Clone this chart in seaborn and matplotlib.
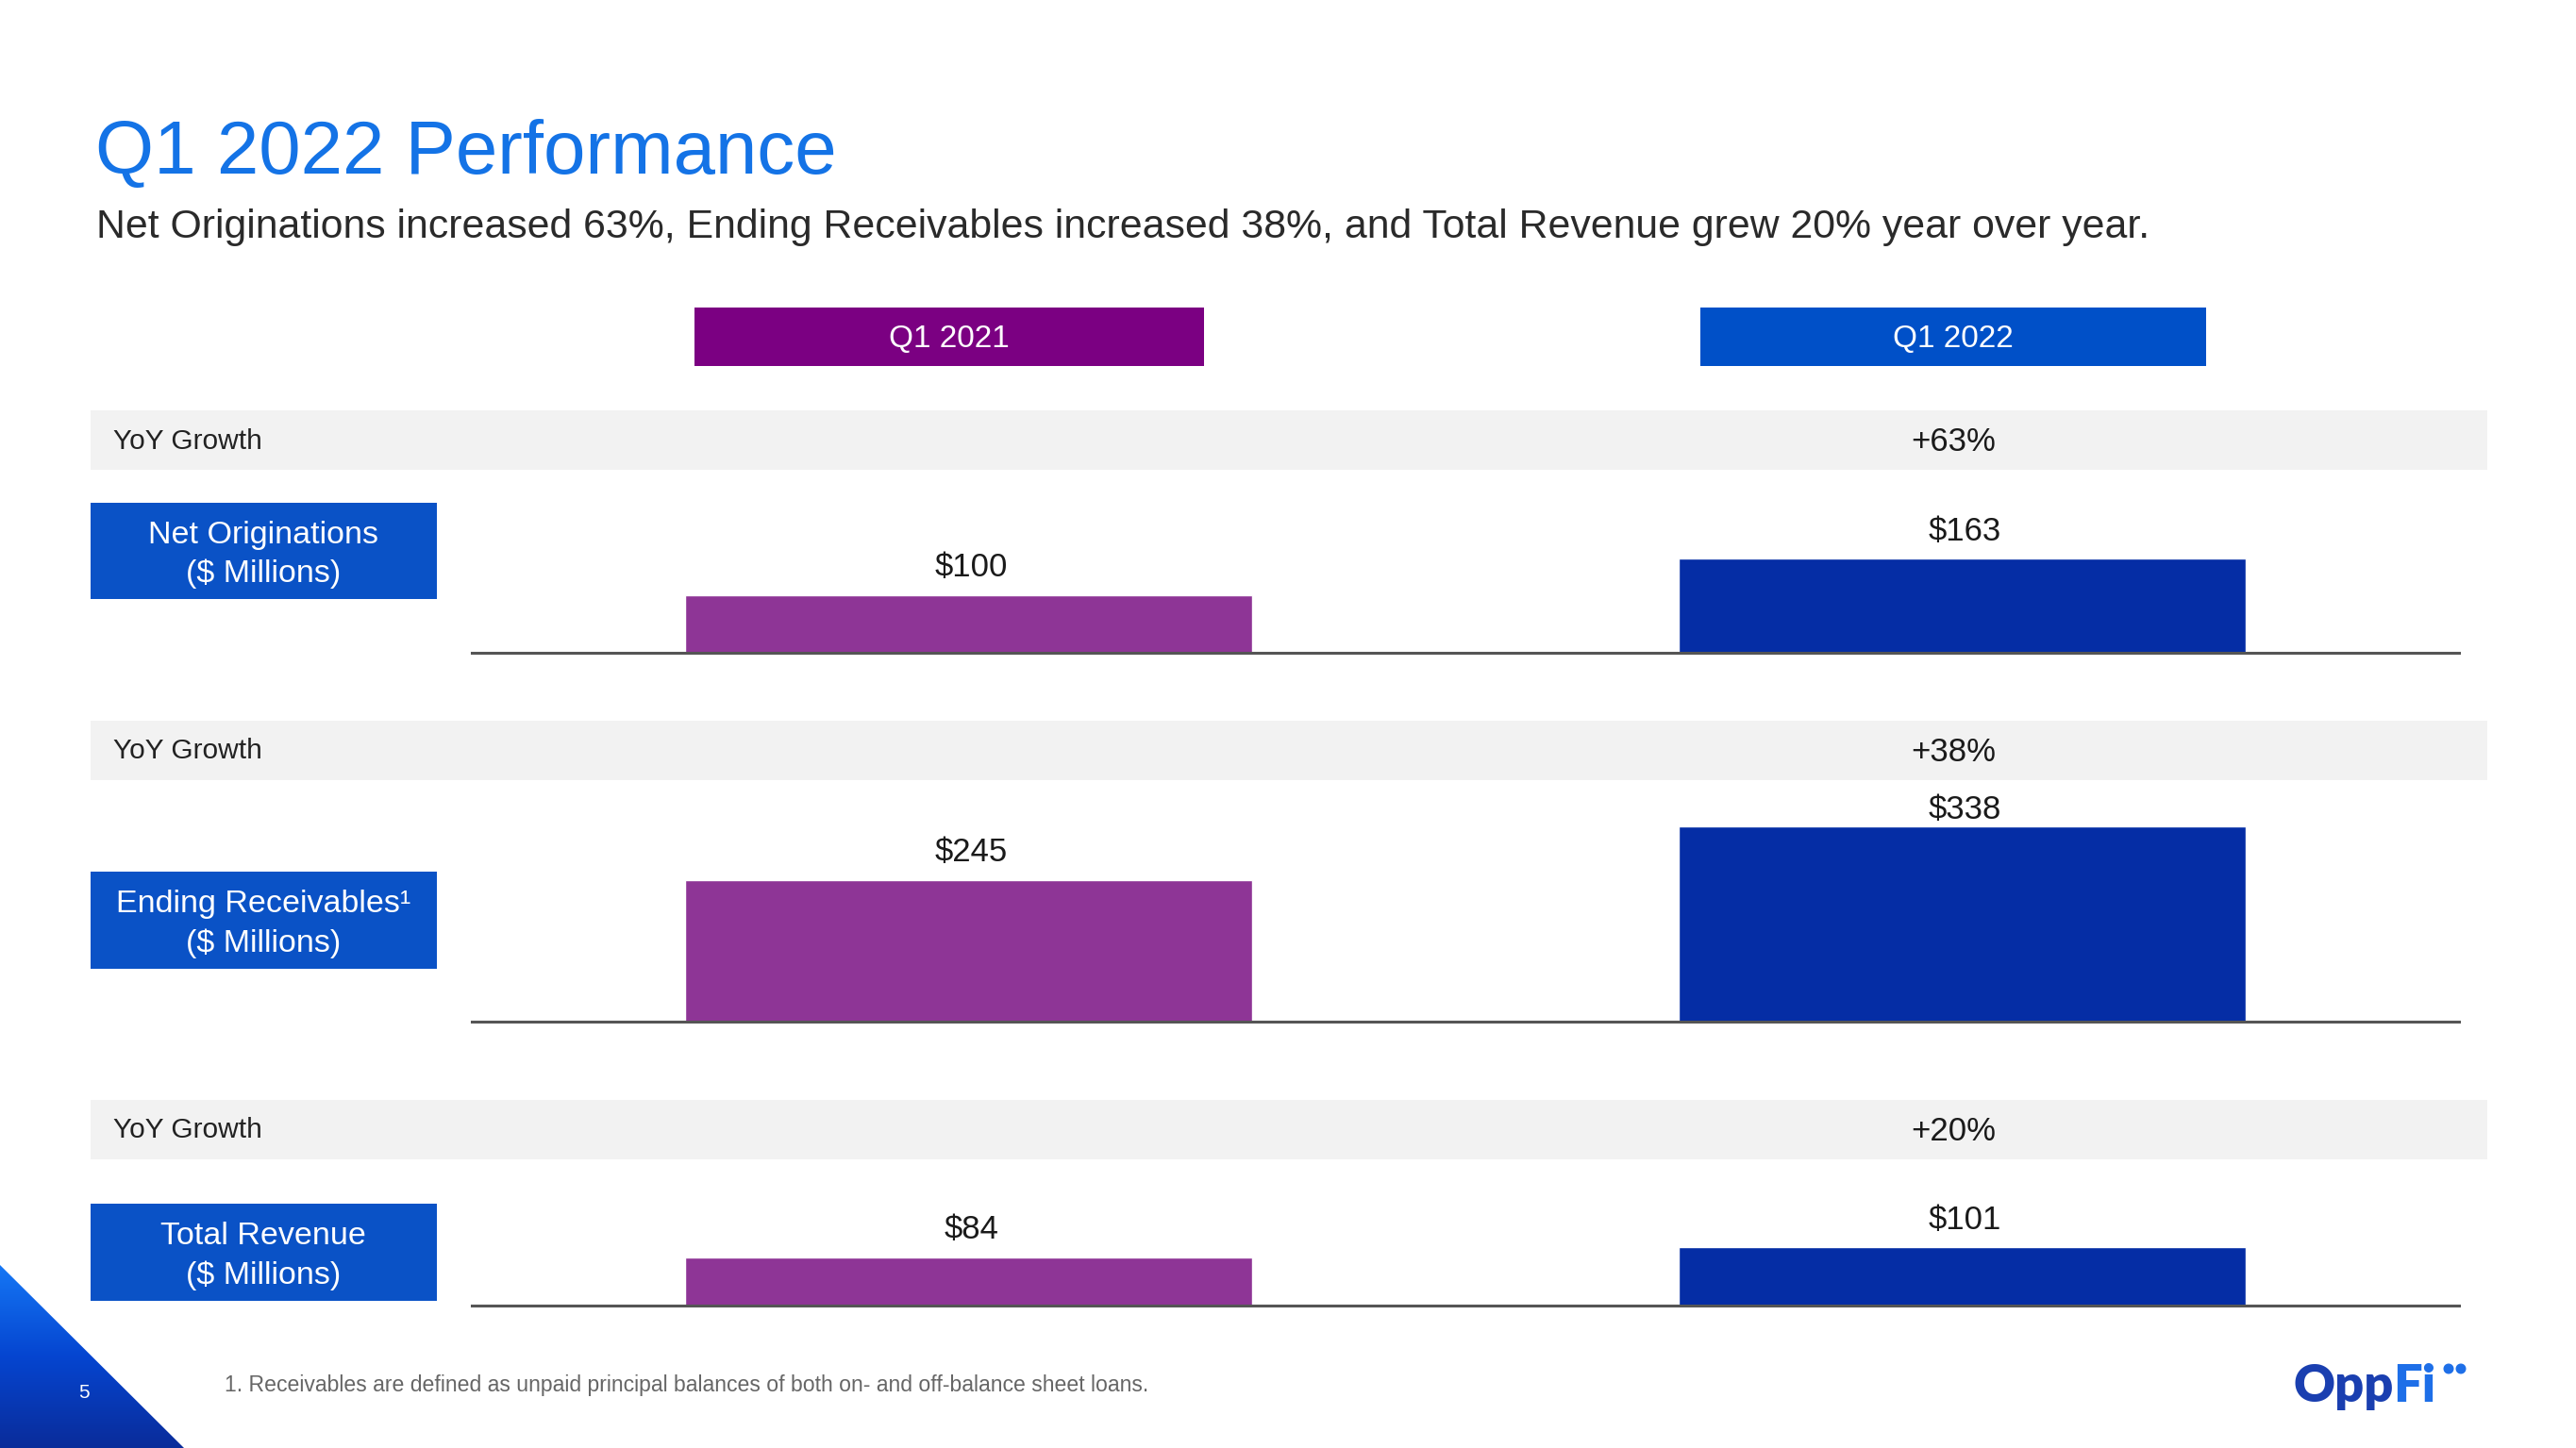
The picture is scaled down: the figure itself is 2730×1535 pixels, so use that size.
import numpy as np
import pandas as pd
import matplotlib
matplotlib.use("Agg")
import matplotlib.pyplot as plt
import seaborn as sns
from matplotlib.patches import Rectangle, Polygon, Circle
from matplotlib.colors import LinearSegmentedColormap

# ---------------- data ----------------
periods = ["Q1 2021", "Q1 2022"]
metrics = ["Net Originations", "Ending Receivables", "Total Revenue"]
metric_labels = ["Net Originations\n($ Millions)", "Ending Receivables¹\n($ Millions)", "Total Revenue\n($ Millions)"]
net_originations = [100, 163]
ending_receivables = [245, 338]
total_revenue = [84, 101]
yoy_growth = ["+63%", "+38%", "+20%"]
value_labels = [["$100", "$163"], ["$245", "$338"], ["$84", "$101"]]

title = "Q1 2022 Performance"
subtitle = ("Net Originations increased 63%, Ending Receivables increased 38%, "
            "and Total Revenue grew 20% year over year.")
footnote = "1. Receivables are defined as unpaid principal balances of both on- and off-balance sheet loans."

# ---------------- style ----------------
sns.set_theme(style="white")
plt.rcParams["font.family"] = ["Liberation Sans", "DejaVu Sans"]

W, H = 2730, 1535
fig = plt.figure(figsize=(W / 100, H / 100), dpi=100)
fig.patch.set_facecolor("white")

def fx(px):
    return px / W

def fy(py):
    return 1 - py / H

C_2021_HDR = "#7B0082"
C_2022_HDR = "#0050C8"
C_2021_BAR = "#8E3596"
C_2022_BAR = "#052DA5"
C_LABEL = "#0A52C6"
C_BAND = "#F2F2F2"
C_TITLE = "#1473E6"

# title / subtitle
fig.text(fx(101), fy(184), title, fontsize=57.5, color=C_TITLE, va="baseline", ha="left")
fig.text(fx(102), fy(252), subtitle, fontsize=30.8, color="#2a2a2a", va="baseline", ha="left")

# header boxes
for (x0, x1, lab, col) in [(736, 1276, periods[0], C_2021_HDR), (1802, 2338, periods[1], C_2022_HDR)]:
    fig.patches.append(Rectangle((fx(x0), fy(388)), fx(x1 - x0), (388 - 326) / H,
                                 transform=fig.transFigure, facecolor=col, edgecolor="none"))
    fig.text(fx((x0 + x1) / 2), fy(359), lab, fontsize=24, color="white", ha="center", va="center")

# rows layout (pixel positions)
bands = [(435, 498), (764, 827), (1166, 1229)]
label_boxes = [(533, 635), (924, 1027), (1276, 1379)]
baselines = [692, 1083, 1384]
series = [net_originations, ending_receivables, total_revenue]

PX_PER_UNIT = 0.612
AX_H = 260  # px
ax_left, ax_right = 500, 2606

for i in range(3):
    b0, b1 = bands[i]
    fig.patches.append(Rectangle((fx(96), fy(b1)), fx(2636 - 96), (b1 - b0) / H,
                                 transform=fig.transFigure, facecolor=C_BAND, edgecolor="none", zorder=0))
    fig.text(fx(120), fy((b0 + b1) / 2 + 1), "YoY Growth", fontsize=21.5, color="#222222",
             ha="left", va="center")
    fig.text(fx(2070), fy((b0 + b1) / 2 + 2), yoy_growth[i], fontsize=25, color="#1a1a1a",
             ha="center", va="center")

    l0, l1 = label_boxes[i]
    fig.patches.append(Rectangle((fx(96), fy(l1)), fx(463 - 96), (l1 - l0) / H,
                                 transform=fig.transFigure, facecolor=C_LABEL, edgecolor="none"))
    fig.text(fx(279), fy((l0 + l1) / 2 + 4), metric_labels[i], fontsize=24.5, color="white",
             ha="center", va="center", linespacing=1.4)

    base = baselines[i]
    ax = fig.add_axes([fx(ax_left), fy(base), fx(ax_right - ax_left), AX_H / H])
    df = pd.DataFrame({"period": periods, "value": series[i]})
    sns.barplot(data=df, x="period", y="value", hue="period",
                palette=[C_2021_BAR, C_2022_BAR], width=0.571, ax=ax,
                legend=False, saturation=1)
    ax.set_xlim(-0.5, 1.5)
    ax.set_ylim(0, AX_H / PX_PER_UNIT)
    ax.patch.set_alpha(0)
    for s in ["top", "right", "left"]:
        ax.spines[s].set_visible(False)
    ax.spines["bottom"].set_color("#555555")
    ax.spines["bottom"].set_linewidth(2.2)
    ax.set_xticks([])
    ax.set_yticks([])
    ax.set_xlabel("")
    ax.set_ylabel("")
    for j, v in enumerate(series[i]):
        off = 21 if v < 300 else 13
        ax.annotate(value_labels[i][j], (j + 0.003, v), xytext=(0, off), textcoords="offset points",
                    ha="center", va="center", fontsize=25, color="#1a1a1a")

# footnote
fig.text(fx(238), fy(1468), footnote, fontsize=16.6, color="#666666", ha="left", va="center")

# bottom-left gradient triangle
ax_bg = fig.add_axes([0, 0, 1, 1], zorder=-1)
ax_bg.set_xlim(0, W)
ax_bg.set_ylim(H, 0)
ax_bg.axis("off")
grad = np.linspace(0, 1, 256).reshape(-1, 1)
cmap = LinearSegmentedColormap.from_list("tri", ["#1577F5", "#0545D0", "#0A2C9A"])
im = ax_bg.imshow(grad, extent=(0, 195, 1535, 1341), cmap=cmap, aspect="auto")
tri = Polygon([(0, 1341), (0, 1535), (195, 1535)], closed=True, facecolor="none", edgecolor="none")
ax_bg.add_patch(tri)
im.set_clip_path(tri)
ax_bg.text(89, 1476, "5", fontsize=15, color="white", ha="center", va="center")

# logo
fig.text(fx(2430), fy(1486), "Opp", fontsize=39, fontweight="heavy", color="#1A3FB0",
         ha="left", va="baseline", family=["Lato", "DejaVu Sans"])
fig.text(fx(2536), fy(1486), "Fi", fontsize=39, fontweight="heavy", color="#1E6FE8",
         ha="left", va="baseline", family=["Lato", "DejaVu Sans"])
for cx in [2595, 2608]:
    ax_bg.add_patch(Circle((cx, 1451), 4.8, color="#1E6FE8"))

fig.savefig("out.png", dpi=100, facecolor="white")
